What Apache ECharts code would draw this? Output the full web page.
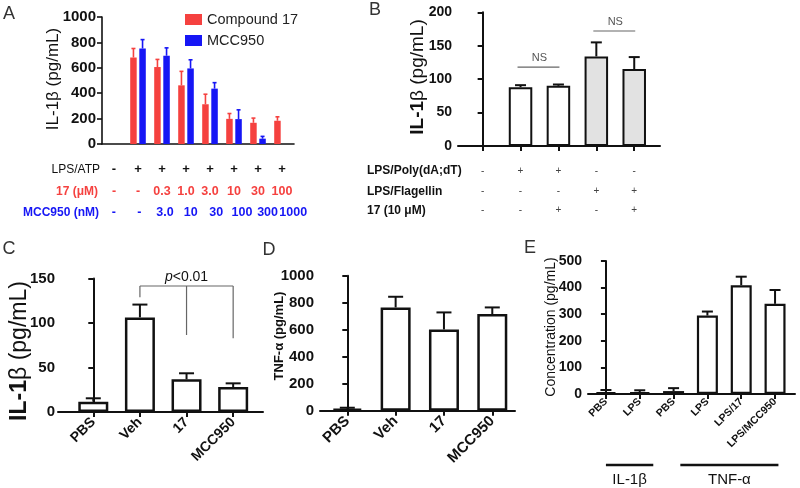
<!DOCTYPE html>
<html><head><meta charset="utf-8">
<script src="https://cdn.jsdelivr.net/npm/echarts@6/dist/echarts.min.js"></script>
<style>html,body{margin:0;padding:0;background:#fff}#c{width:800px;height:488px}</style>
</head><body><div id="c"></div>
<script>
const FONT = '"Liberation Sans", Arial, Helvetica, sans-serif';

// ---------- Panel A ----------
const aLpsAtp = ['-','+','+','+','+','+','+','+'];
const a17     = ['-','-','0.3','1.0','3.0','10','30','100'];
const aMcc    = ['-','-','3.0','10','30','100','300','1000'];
const aCompound17    = [null,681,606,462,313,198,167,183];
const aCompound17Err = [null,752,666,572,392,240,204,214];
const aMCC950        = [null,752,695,595,436,196,42,null];
const aMCC950Err     = [null,822,757,663,483,269,60,null];

// ---------- Panel B ----------
const bPoly = ['-','+','+','-','-'];
const bFlag = ['-','-','-','+','+'];
const b17   = ['-','-','+','-','+'];
const bVals = [null,88,90,134,115];
const bErr  = [null,91,92,155,133];
const bNS   = [[1,2,118],[3,4,172]];

// ---------- Panel C ----------
const cCats = ['PBS','Veh','17','MCC950'];
const cVals = [11.6,106.3,36.7,28];
const cErr  = [15.4,120.7,43.5,32.2];
const cBracketY = 141.6;
const cBracketDrops = [[1,129],[2,86.5],[3,83]];

// ---------- Panel D ----------
const dCats = ['PBS','Veh','17','MCC950'];
const dVals = [15,765,602,716];
const dErr  = [22,844,728,765];

// ---------- Panel E ----------
const eCats = ['PBS','LPS','PBS','LPS','LPS/17','LPS/MCC950'];
const eVals = [7,6,11,295,409,339];
const eErr  = [15,14,22,310,441,391];
const eGroups = [['IL-1β',0,1.4],['TNF-α',2.2,5.1]];

const RED = '#f5413f', BLUE = '#1616f5', INK = '#111';
const plain = v => String(v);

function errSeries(xi, yi, vals, errs, color, capW, lw, dx) {
  return {
    type:'custom', xAxisIndex:xi, yAxisIndex:yi, silent:true, z:3,
    data: vals.map((v,i)=> v==null ? null : [i, v, errs[i]]).filter(Boolean),
    renderItem(params, api) {
      const x = api.value(0), v = api.value(1), e = api.value(2);
      const p0 = api.coord([x, v]), p1 = api.coord([x, e]);
      const cx = p0[0] + dx;
      return {type:'group', children:[
        {type:'line', shape:{x1:cx,y1:p0[1],x2:cx,y2:p1[1]}, style:{stroke:color,lineWidth:lw}},
        {type:'line', shape:{x1:cx-capW/2,y1:p1[1],x2:cx+capW/2,y2:p1[1]}, style:{stroke:color,lineWidth:lw}}
      ]};
    }
  };
}

function valX(grid, n, min, max, labels, extra) {
  const idx = [...Array(n).keys()];
  const ax = {
    type:'value', gridIndex:grid, min, max, position:'bottom',
    splitLine:{show:false},
    axisLine:{show:true, onZero:false, lineStyle:{color:INK, width:2}},
    axisTick:{show:true, customValues:idx, length:5, lineStyle:{width:2,color:INK}},
    axisLabel:{show:true, customValues:idx, fontFamily:FONT, color:INK,
      formatter: v => { const k = Math.round(v); return labels[k] != null ? labels[k] : ''; }}
  };
  if (extra) {
    for (const k in extra) ax[k] = Object.assign({}, ax[k] || {}, extra[k]);
  }
  return ax;
}

function valY(grid, max, interval, fs, margin) {
  return {
    type:'value', gridIndex:grid, min:0, max, interval,
    splitLine:{show:false},
    axisLine:{show:true, lineStyle:{color:INK, width:2}},
    axisTick:{show:true, length:5, lineStyle:{width:2,color:INK}},
    axisLabel:{fontFamily:FONT, fontWeight:'bold', fontSize:fs, color:INK, margin: margin == null ? 6 : margin, formatter:plain}
  };
}

const xAxis = [], yAxis = [], series = [];

// ---- A ---- xAxis 0..1 (grid0), yAxis 0
const aIdx = aLpsAtp.map((_,i)=>i);
xAxis.push({type:'category', gridIndex:0, data:aIdx, position:'bottom',
  axisLine:{lineStyle:{color:INK,width:1.6}},
  axisTick:{alignWithLabel:true, length:4, lineStyle:{color:INK,width:1.6}},
  axisLabel:{interval:0, margin:19, fontFamily:FONT, fontWeight:'bold', fontSize:13, color:INK, formatter:(v,i)=>aLpsAtp[i]}});
xAxis.push({type:'category', gridIndex:0, data:aIdx, position:'bottom',
  axisLine:{show:false}, axisTick:{show:false},
  axisLabel:{interval:0, margin:41, fontFamily:FONT, fontWeight:'bold', fontSize:12.5, color:RED, formatter:(v,i)=>a17[i]}});
yAxis.push({type:'value', gridIndex:0, min:0, max:1000, interval:200, splitLine:{show:false},
  axisLine:{show:true, lineStyle:{color:INK,width:1.6}},
  axisTick:{show:true, length:5, lineStyle:{color:INK,width:1.6}},
  axisLabel:{fontFamily:FONT, fontWeight:'bold', fontSize:15, color:INK, margin:6, formatter:plain}});
const BW_A = 6.5, GAP_A = 2.6;
series.push({type:'bar', name:'Compound 17', xAxisIndex:0, yAxisIndex:0, data:aCompound17, barWidth:BW_A, barGap:(GAP_A/BW_A*100)+'%', itemStyle:{color:RED}});
series.push({type:'bar', name:'MCC950', xAxisIndex:0, yAxisIndex:0, data:aMCC950, barWidth:BW_A, itemStyle:{color:BLUE}});
series.push(errSeries(0,0,aCompound17,aCompound17Err,RED,4,1.6,-(BW_A+GAP_A)/2));
series.push(errSeries(0,0,aMCC950,aMCC950Err,BLUE,4,1.6,(BW_A+GAP_A)/2));

// ---- B ---- xAxis 2..5 (grid1), yAxis 1
const rowStyleB = {fontSize:10, color:'#444'};
xAxis.push(valX(1, 5, -0.65, 4.68, bPoly, {axisLabel:{show:false}}));
xAxis.push(valX(1, 5, -0.65, 4.68, bPoly, {axisLine:{show:false}, axisTick:{show:false}, axisLabel:Object.assign({margin:20}, rowStyleB)}));
xAxis.push(valX(1, 5, -0.65, 4.68, bFlag, {axisLine:{show:false}, axisTick:{show:false}, axisLabel:Object.assign({margin:40}, rowStyleB)}));
xAxis.push(valX(1, 5, -0.65, 4.68, b17,   {axisLine:{show:false}, axisTick:{show:false}, axisLabel:Object.assign({margin:59}, rowStyleB)}));
yAxis.push(valY(1, 200, 50, 14));
const bSeriesIdx = series.length;
series.push({type:'bar', xAxisIndex:2, yAxisIndex:1, barWidth:23.5,
  data: bVals.map((v,i)=> v==null ? null : {value:[i,v], itemStyle:{color: bFlag[i]==='+' ? '#e2e2e2' : '#fff'}}).filter(Boolean),
  itemStyle:{borderColor:INK, borderWidth:2}});
series.push(errSeries(2,1,bVals,bErr,INK,11,2,0));

// ---- C ---- xAxis 6, yAxis 2
xAxis.push(valX(2, 4, -0.757, 3.64, cCats, {axisLabel:{rotate:45, fontWeight:'bold', fontSize:14, margin:8}}));
yAxis.push(valY(2, 150, 50, 15, 3));
const cSeriesIdx = series.length;
series.push({type:'bar', xAxisIndex:6, yAxisIndex:2, barWidth:30, data:cVals.map((v,i)=>[i,v]),
  itemStyle:{color:'#fff', borderColor:INK, borderWidth:2.5}});
series.push(errSeries(6,2,cVals,cErr,INK,15,2,0));

// ---- D ---- xAxis 7, yAxis 3
xAxis.push(valX(3, 4, -0.565, 3.47, dCats, {axisLabel:{rotate:45, fontWeight:'bold', fontSize:15, margin:8}}));
yAxis.push(valY(3, 1000, 200, 15));
series.push({type:'bar', xAxisIndex:7, yAxisIndex:3, barWidth:30, data:dVals.map((v,i)=>[i,v]),
  itemStyle:{color:'#fff', borderColor:INK, borderWidth:2.5}});
series.push(errSeries(7,3,dVals,dErr,INK,15,2,0));

// ---- E ---- xAxis 8, yAxis 4
xAxis.push(valX(4, 6, -0.53, 5.59, eCats, {axisLabel:{rotate:45, fontWeight:'bold', fontSize:10.5, margin:6}}));
yAxis.push(valY(4, 500, 100, 14));
const eSeriesIdx = series.length;
series.push({type:'bar', xAxisIndex:8, yAxisIndex:4, barWidth:21, data:eVals.map((v,i)=>[i,v]),
  itemStyle:{color:'#fff', borderColor:INK, borderWidth:2.2}});
series.push(errSeries(8,4,eVals,eErr,INK,11,2,0));

// ---- A MCC950 row (own label grid) ---- xAxis 9, yAxis 5
xAxis.push({type:'category', gridIndex:5, data:aIdx, position:'bottom',
  axisLine:{show:false}, axisTick:{show:false},
  axisLabel:{interval:0, margin:62, fontFamily:FONT, fontWeight:'bold', fontSize:12.5, color:BLUE, formatter:(v,i)=>aMcc[i]}});
yAxis.push({type:'value', gridIndex:5, show:false, min:0, max:1});

const G0 = {outerBoundsMode:'none', containLabel:false};
const chart = echarts.init(document.getElementById('c'), null, {renderer:'canvas'});
chart.setOption({
  animation:false,
  backgroundColor:'#fff',
  textStyle:{fontFamily:FONT},
  grid:[
    Object.assign({left:102, top:17, width:192, height:127}, G0),
    Object.assign({left:458, top:12.3, width:202, height:133.7}, G0),
    Object.assign({left:58, top:278.5, width:205, height:133.5}, G0),
    Object.assign({left:320, top:275.7, width:195, height:135}, G0),
    Object.assign({left:588, top:261, width:207, height:133}, G0),
    Object.assign({left:101, top:17, width:205, height:127}, G0)
  ],
  legend:{data:['Compound 17','MCC950'], orient:'vertical', left:180, top:7, itemWidth:17, itemHeight:11, itemGap:6,
    icon:'rect', textStyle:{fontFamily:FONT, fontSize:14.5, color:'#222'}},
  xAxis, yAxis, series
});

// ---- annotations ----
const G = [];
const txt = (x,y,text,style,rot) => G.push({type:'text', x, y, rotation: rot || 0, silent:true,
  style:Object.assign({text, fontFamily:FONT, fill:INK, align:'center', verticalAlign:'middle'}, style)});
const ln = (x1,y1,x2,y2,stroke,lw) => G.push({type:'line', silent:true, shape:{x1,y1,x2,y2}, style:{stroke, lineWidth:lw}});
const R = Math.PI/2;

// panel letters
txt(9,14,'A',{fontSize:18, fill:'#333'});
txt(375,10,'B',{fontSize:18, fill:'#333'});
txt(9,249,'C',{fontSize:18, fill:'#333'});
txt(269,250,'D',{fontSize:18, fill:'#333'});
txt(530,248,'E',{fontSize:18, fill:'#333'});

// y-axis titles
txt(53,79,'IL-1β (pg/mL)',{fontSize:17},R);
txt(418,77,'{b|IL-1}β (pg/mL)',{fontSize:19, rich:{b:{fontFamily:FONT,fontSize:19,fontWeight:'bold',fill:INK}}},R);
txt(20,351,'{b|IL-1}β (pg/mL)',{fontSize:23, rich:{b:{fontFamily:FONT,fontSize:23,fontWeight:'bold',fill:INK}}},R);
txt(279,336,'TNF-α (pg/mL)',{fontSize:13, fontWeight:'bold'},R);
txt(551,327,'Concentration (pg/mL)',{fontSize:14},R);

// A row headers
txt(100,170,'LPS/ATP',{fontSize:12, align:'right'});
txt(98,192,'17 (μM)',{fontSize:12, fontWeight:'bold', fill:RED, align:'right'});
txt(99,213,'MCC950 (nM)',{fontSize:12, fontWeight:'bold', fill:BLUE, align:'right'});
// B row headers
txt(367,171,'LPS/Poly(dA;dT)',{fontSize:12, fontWeight:'bold', align:'left'});
txt(367,192,'LPS/Flagellin',{fontSize:12, fontWeight:'bold', align:'left'});
txt(367,211,'17 (10 μM)',{fontSize:12, fontWeight:'bold', align:'left'});

const px = (si, x, y) => chart.convertToPixel({seriesIndex:si}, [x, y]);
// B NS
bNS.forEach(([a,b,y])=>{
  const p1 = px(bSeriesIdx,a,y), p2 = px(bSeriesIdx,b,y);
  ln(p1[0]-3,p1[1],p2[0]+1,p2[1],'#666',1.2);
  txt((p1[0]+p2[0])/2,p1[1]-9,'NS',{fontSize:11, fill:'#555'});
});
// C bracket
{
  const pa = px(cSeriesIdx,1,cBracketY), pb = px(cSeriesIdx,3,cBracketY);
  ln(pa[0],pa[1],pb[0],pb[1],'#666',1.2);
  cBracketDrops.forEach(([x,y])=>{ const t = px(cSeriesIdx,x,cBracketY), b = px(cSeriesIdx,x,y); ln(t[0],t[1],b[0],b[1],'#666',1.2); });
  const pm = px(cSeriesIdx,2,cBracketY);
  G.push({type:'text', x:pm[0], y:pm[1]-9, silent:true, style:{
    text:'{i|p}<0.01', fontFamily:FONT, fontSize:14, fill:INK, align:'center', verticalAlign:'middle',
    rich:{i:{fontStyle:'italic', fontFamily:FONT, fontSize:14, fill:INK}}}});
}
// E groups
eGroups.forEach(([name,a,b])=>{
  const p1 = px(eSeriesIdx,a,0), p2 = px(eSeriesIdx,b,0);
  ln(p1[0],465,p2[0],465,INK,2.5);
  txt((p1[0]+p2[0])/2,480,name,{fontSize:15});
});

chart.setOption({graphic:G});
</script>
</body></html>
